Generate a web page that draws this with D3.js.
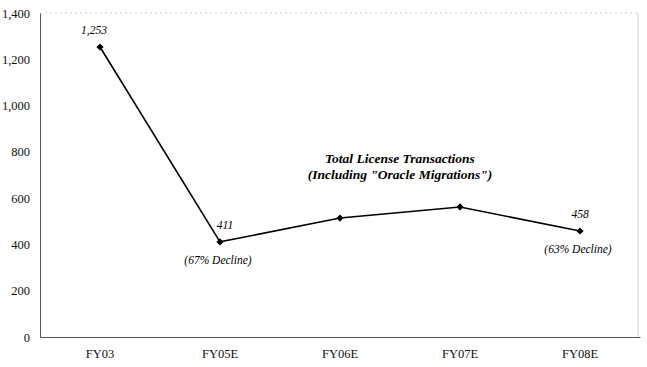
<!DOCTYPE html>
<html>
<head>
<meta charset="utf-8">
<script src="https://cdn.jsdelivr.net/npm/d3@7"></script>
<style>
  body { margin: 0; background: #fff; }
  svg text { font-family: "Liberation Serif", "DejaVu Serif", serif; }
</style>
</head>
<body>
<div id="chart"></div>
<script>
// chart data
const categories = ["FY03", "FY05E", "FY06E", "FY07E", "FY08E"];
const transactions = [1253, 411, 514, 562, 458];
const yTicks = [0, 200, 400, 600, 800, 1000, 1200, 1400];
const valueLabels = ["1,253", "411", null, null, "458"];
const declineNotes = [null, "(67% Decline)", null, null, "(63% Decline)"];
const titleLines = ["Total License Transactions", "(Including \"Oracle Migrations\")"];

const W = 647, H = 367;
const margin = { top: 13, right: 7, bottom: 30, left: 40 };
const width = W - margin.left - margin.right,
      height = H - margin.top - margin.bottom;
const serif = "'Liberation Serif', 'DejaVu Serif', serif";

const svg = d3.select("#chart").append("svg")
    .attr("width", W).attr("height", H);
const g = svg.append("g")
    .attr("transform", `translate(${margin.left},${margin.top})`);

const x = d3.scaleBand().domain(categories).range([0, width]);
const y = d3.scaleLinear().domain([0, 1400]).range([height, 0]);

// faint frame on top and right
g.append("line").attr("x1", 0).attr("x2", width).attr("y1", 0).attr("y2", 0)
    .attr("stroke", "#d0d0d0").attr("stroke-dasharray", "2,3");
g.append("line").attr("x1", width - 2).attr("x2", width - 2).attr("y1", 0).attr("y2", height)
    .attr("stroke", "#d0d0d0");

// axes
const yAxis = g.append("g")
    .call(d3.axisLeft(y).tickValues(yTicks).tickSize(0).tickPadding(10)
        .tickFormat(d3.format(",")));
yAxis.attr("font-family", serif);
yAxis.select(".domain").attr("stroke", "#555");
yAxis.selectAll("text").attr("font-size", 12.5).attr("fill", "#111");

const xAxis = g.append("g").attr("transform", `translate(0,${height})`)
    .call(d3.axisBottom(x).tickSize(0).tickPadding(12));
xAxis.attr("font-family", serif);
xAxis.select(".domain").attr("stroke", "#555");
xAxis.selectAll("text").attr("font-size", 12.5).attr("fill", "#111");

const px = i => x(categories[i]) + x.bandwidth() / 2;

// line
const line = d3.line().x((d, i) => px(i)).y(d => y(d));
g.append("path").datum(transactions)
    .attr("d", line).attr("fill", "none")
    .attr("stroke", "#000").attr("stroke-width", 1.6);

// diamond markers (rotated squares)
g.selectAll(".pt").data(transactions).enter().append("path")
    .attr("class", "pt")
    .attr("d", d3.symbol(d3.symbolSquare, 26))
    .attr("transform", (d, i) => `translate(${px(i)},${y(d)}) rotate(45)`)
    .attr("fill", "#000");

const labelOffset = [-6, 5, 0, 0, 0];

// value labels
g.selectAll(".vl").data(transactions).enter()
    .append("text").attr("class", "vl")
    .attr("x", (d, i) => px(i) + labelOffset[i])
    .attr("y", d => y(d) - 13)
    .attr("text-anchor", "middle")
    .attr("font-family", serif)
    .attr("font-size", 11.5).attr("font-style", "italic")
    .text((d, i) => valueLabels[i] || "");

// decline notes
g.selectAll(".dn").data(transactions).enter()
    .append("text").attr("class", "dn")
    .attr("x", (d, i) => px(i) - 2)
    .attr("y", d => y(d) + 22)
    .attr("text-anchor", "middle")
    .attr("font-family", serif)
    .attr("font-size", 11.5).attr("font-style", "italic")
    .text((d, i) => declineNotes[i] || "");

// title annotation
g.append("text")
    .attr("x", 360).attr("y", 150)
    .attr("text-anchor", "middle")
    .attr("font-family", serif)
    .attr("font-size", 13.5).attr("font-style", "italic").attr("font-weight", "bold")
    .selectAll("tspan").data(titleLines).enter().append("tspan")
    .attr("x", 360).attr("dy", (d, i) => i ? 16 : 0)
    .text(d => d);
</script>
</body>
</html>
